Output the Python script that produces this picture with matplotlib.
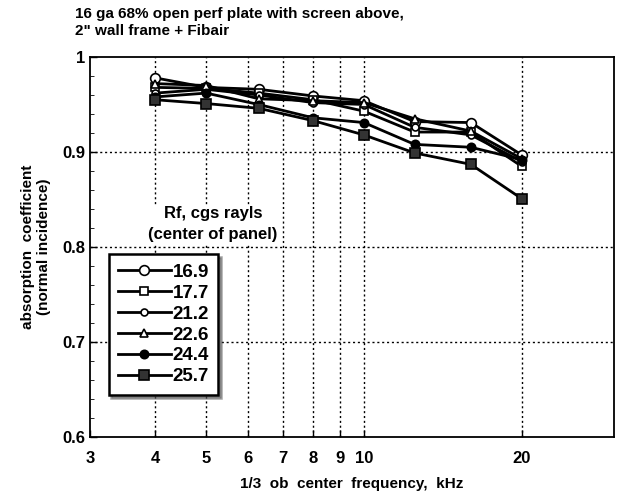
import matplotlib.pyplot as plt
from matplotlib.ticker import FixedLocator, MultipleLocator

plt.rcParams['font.family'] = ['Liberation Sans', 'DejaVu Sans']
plt.rcParams['font.weight'] = 'bold'
plt.rcParams['axes.labelweight'] = 'bold'

# 1/3 octave band centres, kHz
freqs = [4, 5, 6.3, 8, 10, 12.5, 16, 20]

rf_labels = ["16.9", "17.7", "21.2", "22.6", "24.4", "25.7"]
a_169 = [0.978, 0.968, 0.966, 0.959, 0.954, 0.932, 0.931, 0.897]
a_177 = [0.968, 0.967, 0.962, 0.955, 0.943, 0.921, 0.921, 0.885]
a_212 = [0.962, 0.966, 0.960, 0.952, 0.950, 0.926, 0.918, 0.890]
a_226 = [0.972, 0.970, 0.956, 0.954, 0.952, 0.935, 0.922, 0.893]
a_244 = [0.958, 0.962, 0.950, 0.936, 0.931, 0.908, 0.905, 0.892]
a_257 = [0.955, 0.951, 0.946, 0.933, 0.918, 0.899, 0.887, 0.851]

series = [a_169, a_177, a_212, a_226, a_244, a_257]
markers = [('o', 'white', 7), ('s', 'white', 6), ('o', 'white', 5),
           ('^', 'white', 6), ('o', 'black', 6), ('s', '#333333', 7)]

fig = plt.figure(figsize=(6.2, 5), dpi=100)
ax = fig.add_axes([0.145, 0.126, 0.845, 0.760])

handles = []
for vals, (m, fc, ms), lab in zip(series, markers, rf_labels):
    h, = ax.plot(freqs, vals, color='black', lw=2, marker=m, markersize=ms,
                 markerfacecolor=fc, markeredgecolor='black', markeredgewidth=1.2,
                 label=lab)
    handles.append(h)

ax.set_xscale('log')
ax.set_xlim(3, 30)
ax.set_ylim(0.6, 1.0)
xt = [3, 4, 5, 6, 7, 8, 9, 10, 20]
ax.xaxis.set_major_locator(FixedLocator(xt))
ax.xaxis.set_minor_locator(FixedLocator([]))
ax.set_xticklabels([str(v) for v in xt])
ax.yaxis.set_major_locator(FixedLocator([0.6, 0.7, 0.8, 0.9, 1.0]))
ax.yaxis.set_minor_locator(MultipleLocator(0.02))
ax.set_yticklabels(['0.6', '0.7', '0.8', '0.9', '1'])
ax.tick_params(direction='in', labelsize=12, length=5, width=1)
ax.tick_params(which='minor', direction='in', length=3)
ax.tick_params(axis='x', pad=10)

for v in [4, 5, 6, 7, 8, 9, 10, 20]:
    ax.axvline(v, color='black', lw=1, ls=(0, (1.5, 2)), zorder=0)
for v in [0.7, 0.8, 0.9]:
    ax.axhline(v, color='black', lw=1, ls=(0, (1.5, 2)), zorder=0)

for s in ax.spines.values():
    s.set_linewidth(1.3)

ax.set_xlabel('1/3  ob  center  frequency,  kHz', fontsize=11, labelpad=8)
ax.set_ylabel('absorption  coefficient\n(normal incidence)', fontsize=11, labelpad=8)

fig.text(0.121, 0.955, '16 ga 68% open perf plate with screen above,\n2" wall frame + Fibair',
         fontsize=11, va='center', ha='left', linespacing=1.35)

ax.text(0.235, 0.56, 'Rf, cgs rayls\n(center of panel)', transform=ax.transAxes,
        fontsize=12, ha='center', va='center', linespacing=1.5,
        bbox=dict(facecolor='white', edgecolor='none', pad=1), zorder=3)

leg = ax.legend(handles=handles, loc='upper left', bbox_to_anchor=(0.018, 0.505),
                fontsize=13.5, handlelength=2.8, handletextpad=0.1, labelspacing=0.2,
                frameon=True, fancybox=False, shadow=True, borderpad=0.5)
leg.get_frame().set_edgecolor('black')
leg.get_frame().set_linewidth(1.8)
leg.get_frame().set_alpha(1)

fig.savefig('out.png', dpi=100)
